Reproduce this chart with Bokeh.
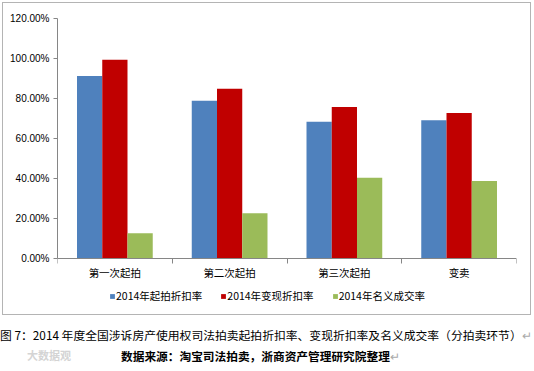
from bokeh.plotting import figure
from bokeh.models import (ColumnDataSource, FixedTicker, NumeralTickFormatter, Legend,
                          LegendItem, Range1d, Div, LinearAxis)
from bokeh.layouts import column
from bokeh.embed import file_html
from bokeh.resources import INLINE

categories = ["第一次起拍", "第二次起拍", "第三次起拍", "变卖"]
series_names = ["2014年起拍折扣率", "2014年变现折扣率", "2014年名义成交率"]
start_rate = [0.912, 0.789, 0.683, 0.691]
realize_rate = [0.993, 0.849, 0.757, 0.727]
deal_rate = [0.126, 0.226, 0.403, 0.387]
y_ticks = [0, 0.2, 0.4, 0.6, 0.8, 1.0, 1.2]
colors = ["#4F81BD", "#C00000", "#9BBB59"]
caption1 = "图 7：2014 年度全国涉诉房产使用权司法拍卖起拍折扣率、变现折扣率及名义成交率（分拍卖环节）"
caption2 = "数据来源：淘宝司法拍卖，浙商资产管理研究院整理"
watermark = "大数据观"

CJK = "Noto Sans CJK SC"
W, H = 529, 313

p = figure(width=W, height=H, output_backend="svg", toolbar_location=None,
           x_range=Range1d(0, len(categories)), y_range=Range1d(-0.281, 1.2),
           x_axis_location=None, y_axis_location=None,
           min_border_left=54, min_border_right=16, min_border_top=15, min_border_bottom=2)
p.outline_line_color = None
p.grid.visible = False
p.margin = (2, 0, 0, 2)
p.styles = {"border": "1px solid #b4b4b4"}

centers = [i + 0.5 for i in range(len(categories))]
bw = 0.22
series = [start_rate, realize_rate, deal_rate]
renderers = []
for k, vals in enumerate(series):
    src = ColumnDataSource(dict(x=[c + (k - 1) * bw for c in centers], top=vals))
    r = p.vbar(x="x", top="top", bottom=0, width=bw, source=src,
               fill_color=colors[k], line_color=None)
    renderers.append(r)

yax = LinearAxis(ticker=FixedTicker(ticks=y_ticks, minor_ticks=[]),
                 formatter=NumeralTickFormatter(format="0.00%"), bounds=(0, 1.2))
yax.axis_line_color = "#868686"
yax.major_tick_line_color = "#868686"
yax.major_tick_out = 4
yax.major_tick_in = 0
yax.major_label_standoff = 4
yax.major_label_text_font = "Liberation Sans"
yax.major_label_text_font_size = "10px"
yax.major_label_text_color = "#000000"
p.add_layout(yax, "left")

xax = LinearAxis(ticker=FixedTicker(ticks=centers, minor_ticks=list(range(len(categories) + 1))),
                 fixed_location=0)
xax.major_label_overrides = {c: name for c, name in zip(centers, categories)}
xax.axis_line_color = "#868686"
xax.major_tick_line_color = None
xax.major_tick_out = 0
xax.major_tick_in = 0
xax.minor_tick_line_color = "#868686"
xax.minor_tick_out = 5
xax.minor_tick_in = 0
xax.major_label_standoff = 2
xax.major_label_text_font = CJK
xax.major_label_text_font_size = "10.5px"
xax.major_label_text_color = "#000000"
p.add_layout(xax, "below")

legend = Legend(items=[LegendItem(label=n, renderers=[r]) for n, r in zip(series_names, renderers)],
                orientation="horizontal", location=(52, 11),
                glyph_width=6, glyph_height=6, label_standoff=1, spacing=18,
                padding=0, margin=0, border_line_color=None, background_fill_alpha=0,
                label_text_font=CJK, label_text_font_size="10.5px", label_text_color="#000000",
                label_height=12)
p.add_layout(legend, "center")

cap = Div(width=534, height=54, margin=(0, 0, 0, 0), text=(
    '<div style="position:relative;font-family:\'Noto Sans CJK SC\';font-size:11.8px;line-height:21px;'
    'color:#000;white-space:nowrap;margin-top:9px">'
    + caption1 + '<span style="color:#aaa">↵</span><br>'
    '<span style="position:absolute;left:27px;top:21px;color:#d4d4d4;font-size:11px;'
    'font-weight:bold">' + watermark + '</span>'
    '<span style="margin-left:121px;font-weight:bold;font-size:11.7px">' + caption2 +
    '</span><span style="color:#aaa">↵</span></div>'))

layout = column(p, cap, spacing=0)
open("out.html", "w").write(file_html(layout, INLINE))
